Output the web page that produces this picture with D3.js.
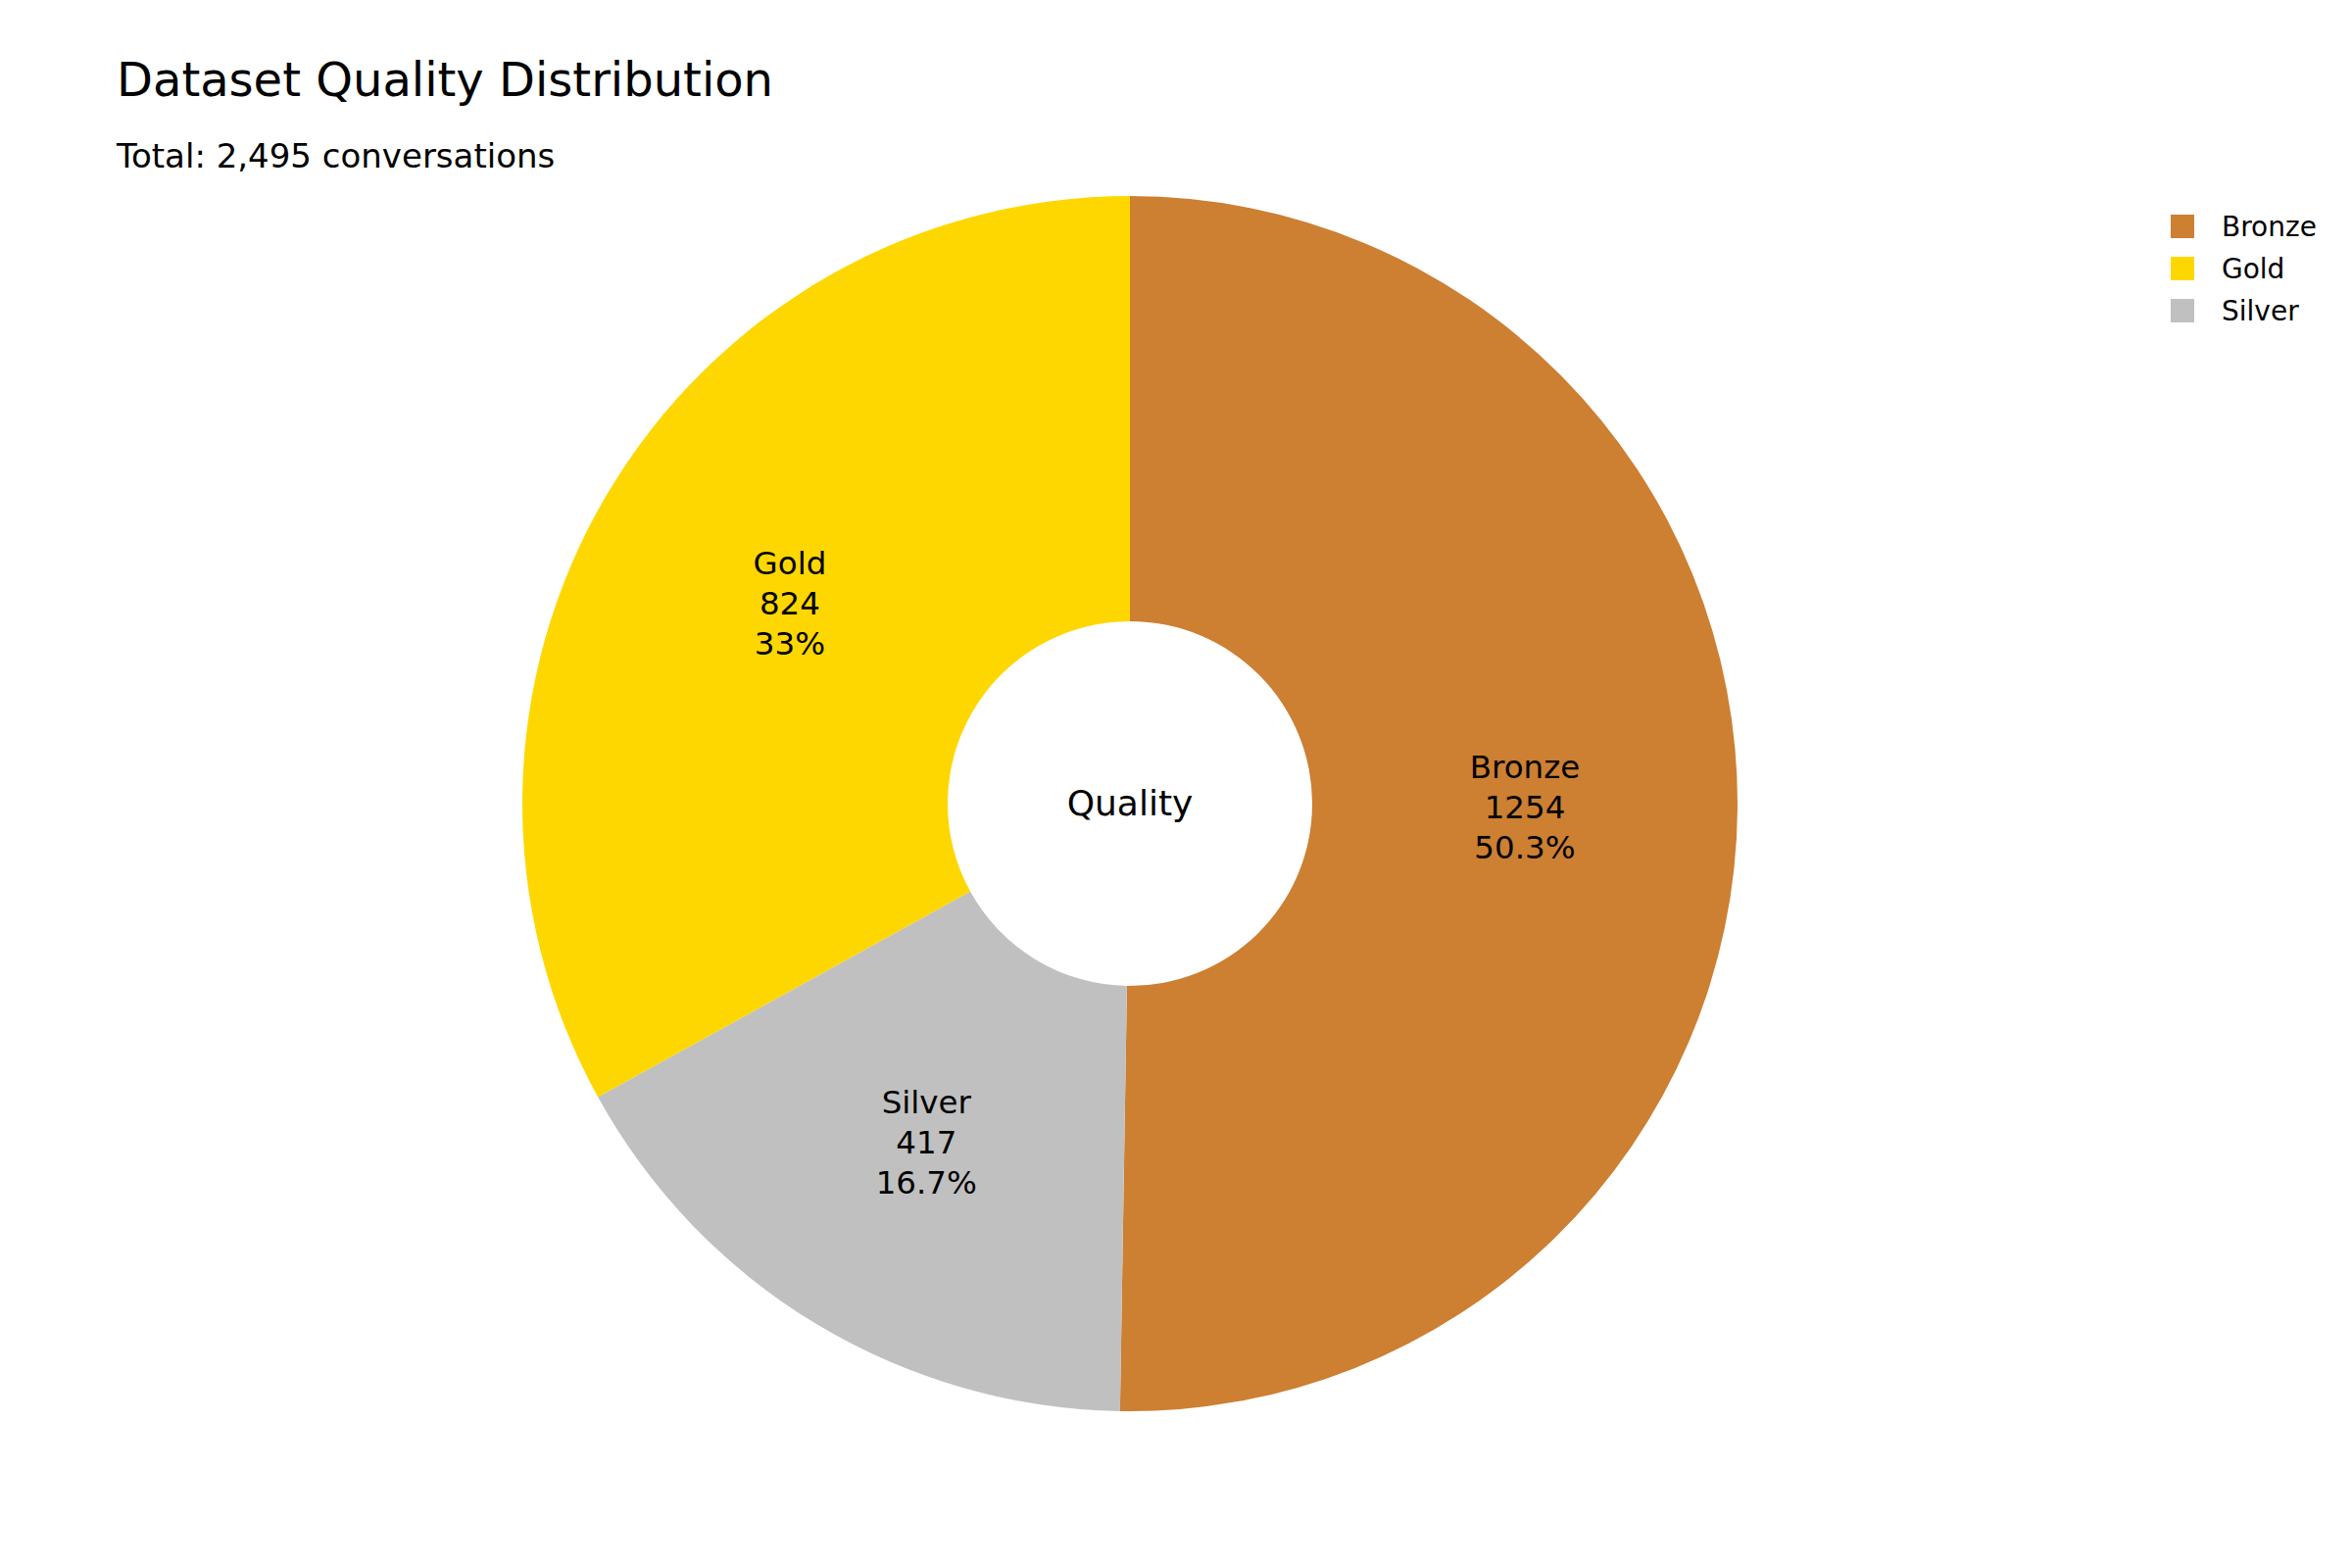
<html>
<head>
    <title>Dataset Quality Distribution</title>
    <script src="https://d3js.org/d3.v7.min.js"></script>
    <style>
        body { margin: 0; background: #fff; }
        text { font-family: "DejaVu Sans", Verdana, sans-serif; fill: #000; }
    </style>
</head>
<body>
    <svg id="chart" width="2400" height="1600"></svg>

    <script>
    // data
    const categories = ["Bronze", "Gold", "Silver"];
    const counts = [1254, 824, 417];
    const sliceOrder = ["Bronze", "Silver", "Gold"];   // clockwise from 12 o'clock
    const colors = ["#CD7F32", "#FFD700", "#C0C0C0"];
    const holeLabel = "Quality";

    const width = 2400, height = 1600;
    const cx = 1153, cy = 820;
    const outerR = 620, innerR = 186;

    const svg = d3.select('#chart');
    const total = d3.sum(counts);
    const color = d3.scaleOrdinal().domain(categories).range(colors);
    const pct = d3.format(".3~p");

    const data = categories.map((c, i) => ({ name: c, value: counts[i] }));

    const pie = d3.pie()
        .value(d => d.value)
        .sort((a, b) => sliceOrder.indexOf(a.name) - sliceOrder.indexOf(b.name));
    const arc = d3.arc().innerRadius(innerR).outerRadius(outerR);

    const g = svg.append('g').attr('transform', `translate(${cx},${cy})`);

    const slices = g.selectAll('g.slice')
        .data(pie(data))
        .enter()
        .append('g')
        .attr('class', 'slice');

    slices.append('path')
        .attr('d', arc)
        .attr('fill', d => color(d.data.name));

    // inside labels: name / count / percent
    const labels = slices.append('text')
        .attr('transform', d => `translate(${arc.centroid(d)})`)
        .attr('text-anchor', 'middle')
        .style('font-size', '32.5px');
    labels.each(function(d) {
        const lines = [d.data.name, d.data.value, pct(d.data.value / total)];
        d3.select(this).selectAll('tspan')
            .data(lines)
            .enter()
            .append('tspan')
            .attr('x', 0)
            .attr('y', (l, i) => (i - 1) * 41 + 12)
            .text(l => l);
    });

    g.append('text')
        .attr('text-anchor', 'middle')
        .attr('y', 12)
        .style('font-size', '36px')
        .text(holeLabel);

    // title + subtitle
    svg.append('text')
        .attr('x', 119)
        .attr('y', 98)
        .style('font-size', '48px')
        .text('Dataset Quality Distribution');
    svg.append('text')
        .attr('x', 119)
        .attr('y', 171)
        .style('font-size', '34px')
        .text(`Total: ${d3.format(",")(total)} conversations`);

    // legend
    const legend = svg.selectAll('g.legend')
        .data(categories)
        .enter()
        .append('g')
        .attr('class', 'legend')
        .attr('transform', (d, i) => `translate(2215, ${231 + i * 43})`);
    legend.append('rect')
        .attr('x', 0)
        .attr('y', -12)
        .attr('width', 24)
        .attr('height', 24)
        .attr('fill', d => color(d));
    legend.append('text')
        .attr('x', 52)
        .attr('y', 10)
        .style('font-size', '28px')
        .text(d => d);
    </script>
</body>
</html>
